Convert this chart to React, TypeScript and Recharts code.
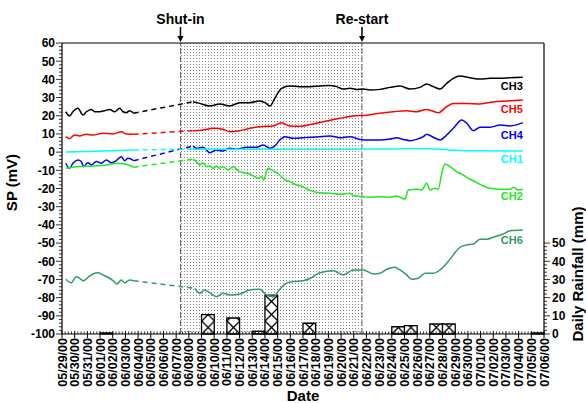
import React from "react";
import {
  ComposedChart,
  Line,
  XAxis,
  YAxis,
  ReferenceArea,
  ReferenceLine,
  Label,
} from "recharts";

const FONT = "'Liberation Sans', Arial, sans-serif";

// x = days since 05/29/00
const DATE_LABELS = [
  "05/29/00", "05/30/00", "05/31/00", "06/01/00", "06/02/00", "06/03/00", "06/04/00",
  "06/05/00", "06/06/00", "06/07/00", "06/08/00", "06/09/00", "06/10/00", "06/11/00",
  "06/12/00", "06/13/00", "06/14/00", "06/15/00", "06/16/00", "06/17/00", "06/18/00",
  "06/19/00", "06/20/00", "06/21/00", "06/22/00", "06/23/00", "06/24/00", "06/25/00",
  "06/26/00", "06/27/00", "06/28/00", "06/29/00", "06/30/00", "07/01/00", "07/02/00",
  "07/03/00", "07/04/00", "07/05/00", "07/06/00",
];
const SP_MAJOR = [-100, -90, -80, -70, -60, -50, -40, -30, -20, -10, 0, 10, 20, 30, 40, 50, 60];
const RAIN_MAJOR = [0, 10, 20, 30, 40, 50];

const SHUT_IN = 9.34;
const RESTART = 23.65;

// daily rainfall, bar spans the day [d, d+1]
const RAIN_DAYS = [3, 11, 13, 15, 16, 19, 26, 27, 29, 30, 37];
const RAIN_MM = [0.6, 10.6, 8.8, 1.5, 21.4, 5.9, 4.0, 4.6, 5.5, 5.5, 0.6];

type Pt = [number, number];

const CH3_PRE: Pt[] = [[0.3, 22.2], [0.6, 19.9], [0.86, 22.2], [1.26, 24.1], [1.65, 20.4], [1.92, 22.2], [2.31, 23.5], [2.57, 22.2], [2.97, 22.2], [3.36, 22.8], [3.76, 23.5], [4.15, 22.2], [4.55, 24.1], [4.81, 22.2], [5.07, 21.7], [5.34, 22.8], [5.65, 21.4]];
const CH3_POST: Pt[] = [[10.33, 27.7], [10.86, 26.8], [11.65, 25.4], [12.44, 26.5], [13.23, 25.4], [14.02, 27.2], [14.81, 27.2], [15.6, 28.1], [16.0, 27.2], [16.4, 25.4], [16.78, 29.6], [17.31, 35.1], [17.96, 36.4], [18.75, 36.0], [19.54, 36.0], [20.33, 36.4], [21.12, 36.7], [21.65, 36.0], [22.17, 34.7], [22.7, 35.1], [23.23, 34.5], [23.75, 34.7], [24.28, 34.2], [25.07, 34.5], [25.86, 35.6], [26.65, 36.4], [27.43, 34.7], [28.22, 35.6], [28.75, 37.5], [29.27, 36.0], [29.8, 34.7], [30.33, 37.8], [30.85, 40.6], [31.38, 41.9], [32.17, 40.9], [32.96, 40.2], [33.75, 40.6], [34.54, 40.6], [35.33, 40.9], [36.33, 41.1]];

const CH5_PRE: Pt[] = [[0.3, 8.5], [0.6, 7.4], [0.99, 9.4], [1.39, 8.9], [1.92, 9.8], [2.44, 9.4], [3.23, 10.4], [4.02, 10.0], [4.68, 11.2], [5.07, 10.0], [5.65, 9.8]];
const CH5_POST: Pt[] = [[10.33, 11.8], [11.12, 12.2], [11.91, 13.1], [12.7, 12.6], [13.23, 11.2], [14.02, 11.8], [14.81, 13.1], [15.6, 14.0], [16.65, 14.4], [17.31, 16.2], [17.96, 14.4], [18.75, 14.2], [19.8, 15.5], [20.86, 17.1], [21.91, 18.6], [22.96, 19.9], [24.02, 20.3], [25.07, 21.4], [26.12, 22.2], [27.17, 22.8], [27.96, 22.2], [28.75, 23.5], [29.67, 21.7], [30.33, 25.0], [30.85, 26.8], [31.91, 26.8], [32.96, 26.5], [34.0, 27.6], [35.06, 28.1], [36.33, 28.7]];

const CH4_PRE: Pt[] = [[0.3, -6.1], [0.6, -8.9], [0.86, -6.1], [1.26, -4.3], [1.52, -5.2], [1.7, -8.0], [2.05, -5.8], [2.31, -7.1], [2.71, -5.2], [3.1, -6.1], [3.5, -4.3], [3.89, -5.8], [4.28, -4.7], [4.68, -2.5], [4.94, -4.7], [5.2, -3.4], [5.65, -4.7]];
const CH4_POST: Pt[] = [[10.33, 3.4], [10.6, 2.1], [11.12, 2.7], [11.65, -0.3], [12.18, 1.2], [12.7, 0.6], [13.23, 2.1], [13.76, 1.6], [14.55, 2.7], [15.34, 2.7], [15.86, 3.9], [16.39, 2.1], [16.78, 3.4], [17.17, 6.7], [17.57, 8.5], [18.22, 7.6], [19.01, 7.9], [19.8, 8.2], [21.12, 8.9], [21.91, 7.9], [22.7, 8.5], [23.49, 7.0], [24.28, 6.7], [25.07, 6.7], [25.86, 7.2], [26.39, 7.9], [26.91, 7.0], [27.43, 6.3], [27.96, 7.0], [28.49, 8.5], [28.75, 9.8], [29.27, 8.2], [29.8, 6.7], [30.33, 9.4], [30.85, 13.1], [31.52, 17.7], [31.91, 15.9], [32.43, 11.8], [32.96, 13.7], [33.75, 13.7], [34.54, 14.9], [35.33, 14.4], [36.33, 16.2]];

const CH1_PRE: Pt[] = [[0.3, 0.0], [2.0, 0.4], [4.0, 0.8], [5.65, 1.2]];
const CH1_POST: Pt[] = [[10.33, 1.6], [14.0, 1.6], [18.0, 1.6], [22.0, 1.6], [26.0, 1.7], [29.0, 1.9], [30.5, 1.2], [32.0, 0.8], [36.33, 0.6]];

const CH2_PRE: Pt[] = [[0.3, -8.9], [1.13, -8.0], [2.44, -7.6], [3.5, -7.1], [4.28, -6.1], [4.94, -6.5], [5.65, -8.3]];
const CH2_POST: Pt[] = [[10.33, -3.9], [10.6, -5.2], [10.86, -7.1], [11.12, -5.8], [11.39, -8.0], [11.65, -7.6], [11.91, -8.9], [12.18, -7.6], [12.44, -8.9], [12.7, -8.0], [13.1, -9.8], [13.49, -8.0], [13.88, -10.2], [14.28, -11.3], [14.81, -12.0], [15.2, -13.5], [15.46, -14.4], [15.73, -13.5], [15.91, -15.3], [16.12, -10.7], [16.25, -8.9], [16.52, -9.8], [16.78, -10.7], [17.17, -12.6], [17.57, -15.3], [17.96, -16.2], [18.49, -18.1], [19.01, -19.0], [19.54, -21.0], [20.33, -22.3], [21.12, -22.6], [21.91, -23.2], [22.7, -22.6], [22.96, -23.9], [23.75, -24.5], [24.28, -24.8], [25.07, -24.5], [25.86, -24.8], [26.39, -24.1], [26.65, -24.8], [27.04, -25.8], [27.3, -20.8], [27.96, -20.4], [28.36, -20.8], [28.75, -17.1], [29.01, -20.8], [29.41, -19.9], [29.67, -20.3], [29.94, -11.6], [30.2, -6.5], [30.59, -8.0], [31.12, -10.7], [31.64, -12.6], [32.17, -14.9], [32.7, -16.8], [33.22, -18.6], [33.75, -19.9], [34.54, -20.4], [35.33, -20.4], [35.59, -19.3], [35.99, -20.8], [36.33, -20.4]];

const CH6_PRE: Pt[] = [[0.3, -69.9], [0.73, -71.8], [1.13, -68.5], [1.39, -69.4], [1.7, -70.7], [2.18, -68.1], [2.44, -67.0], [2.84, -66.3], [3.23, -67.5], [3.62, -68.8], [4.02, -70.7], [4.33, -72.5], [4.68, -70.3], [4.94, -71.8], [5.34, -70.3], [5.65, -70.7]];
const CH6_POST: Pt[] = [[10.47, -74.9], [10.86, -77.6], [11.25, -75.8], [11.65, -77.3], [12.18, -79.5], [12.7, -77.6], [13.23, -78.5], [14.02, -78.0], [14.81, -75.8], [15.6, -75.4], [16.12, -78.5], [16.65, -79.5], [17.17, -75.4], [17.7, -72.1], [18.22, -71.2], [19.01, -70.7], [19.54, -69.5], [20.33, -66.3], [21.38, -65.2], [22.17, -67.5], [22.96, -64.8], [23.75, -64.8], [24.54, -67.0], [25.07, -66.6], [25.6, -64.4], [26.25, -63.3], [26.65, -64.8], [27.17, -67.5], [27.57, -69.9], [28.09, -69.4], [28.62, -66.6], [29.27, -66.6], [29.8, -64.8], [30.33, -61.1], [30.85, -56.5], [31.38, -52.3], [31.91, -51.0], [32.43, -50.5], [32.96, -47.9], [33.49, -47.9], [34.0, -46.8], [34.8, -45.0], [35.33, -43.2], [36.33, -42.8]];

const SERIES = [
  { name: "CH3", color: "#000000", pre: CH3_PRE, post: CH3_POST, dy: 13 },
  { name: "CH5", color: "#ff0000", pre: CH5_PRE, post: CH5_POST, dy: 13 },
  { name: "CH4", color: "#0000ff", pre: CH4_PRE, post: CH4_POST, dy: 16.5 },
  { name: "CH1", color: "#00ffff", pre: CH1_PRE, post: CH1_POST, dy: 11.5 },
  { name: "CH2", color: "#1fe81f", pre: CH2_PRE, post: CH2_POST, dy: 10.5 },
  { name: "CH6", color: "#339966", pre: CH6_PRE, post: CH6_POST, dy: 14.5 },
];

const toRows = (pts: Pt[]) => pts.map(([d, v]) => ({ d, v }));

const xTicks: number[] = [];
for (let i = 0; i <= 38 * 4; i++) xTicks.push(i / 4);
const spTicks: number[] = [];
for (let v = -100; v <= 60; v += 2) spTicks.push(v);
const rainTicks: number[] = [];
for (let v = 0; v <= 50; v += 2) rainTicks.push(v);

const XTick = (props: any) => {
  const { x, y, payload } = props;
  const v = payload.value as number;
  const day = Math.round(v);
  if (Math.abs(v - day) > 1e-6) {
    return <line x1={x} x2={x} y1={y} y2={y - 2.5} stroke="#000" strokeWidth={0.8} />;
  }
  return (
    <g>
      <line x1={x} x2={x} y1={y - 3} y2={y + 4} stroke="#000" strokeWidth={1} />
      <text
        x={x}
        y={y + 4}
        dy="0.36em"
        transform={`rotate(-90 ${x} ${y + 4})`}
        textAnchor="end"
        fontSize={12.5}
        fontWeight="bold"
        fontFamily={FONT}
        fill="#000"
      >
        {DATE_LABELS[day]}
      </text>
    </g>
  );
};

const SpTick = (props: any) => {
  const { x, y, payload } = props;
  const v = payload.value as number;
  const major = SP_MAJOR.includes(v);
  return (
    <g>
      <line x1={x - (major ? 6 : 3)} x2={x} y1={y} y2={y} stroke="#000" strokeWidth={0.8} />
      {major && (
        <text x={x - 7} y={y} dy="0.36em" textAnchor="end" fontSize={12} fontWeight="bold" fontFamily={FONT} fill="#000">
          {v}
        </text>
      )}
    </g>
  );
};

const RainTick = (props: any) => {
  const { x, y, payload } = props;
  const v = payload.value as number;
  const major = RAIN_MAJOR.includes(v);
  return (
    <g>
      <line x1={x} x2={x + (major ? 6 : 3)} y1={y} y2={y} stroke="#000" strokeWidth={0.8} />
      {major && (
        <text x={x + 8} y={y} dy="0.36em" textAnchor="start" fontSize={12} fontWeight="bold" fontFamily={FONT} fill="#000">
          {v}
        </text>
      )}
    </g>
  );
};

const EventLabel = (text: string) => (props: any) => {
  const { x, y } = props.viewBox;
  return (
    <g>
      <text x={x} y={y - 19} textAnchor="middle" fontSize={14} fontWeight="bold" fontFamily={FONT} fill="#000">
        {text}
      </text>
      <line x1={x} x2={x} y1={y - 16} y2={y - 6} stroke="#000" strokeWidth={1.5} />
      <path d={`M${x - 3},${y - 7} L${x + 3},${y - 7} L${x},${y - 1} Z`} fill="#000" />
    </g>
  );
};

const endLabel = (name: string, color: string, dy: number, last: number) => (p: any) => {
  if (p.index !== last) return <g key={p.index} />;
  return (
    <text key={p.index} x={p.x} y={p.y + dy} textAnchor="end" fontSize={11} fontWeight="bold" fontFamily={FONT} fill={color}>
      {name}
    </text>
  );
};

export default function App() {
  return (
    <div style={{ position: "absolute", left: 0, top: 0, width: 586, height: 403, background: "#fff" }}>
      <ComposedChart
        width={586}
        height={403}
        margin={{ top: 43, right: 0, bottom: 0, left: 0 }}
        style={{ fontFamily: FONT }}
      >
        <defs>
          <pattern id="dots" patternUnits="userSpaceOnUse" width={3} height={3}>
            <rect x={0} y={0} width={3} height={3} fill="#fff" />
            <rect x={1} y={1} width={1} height={1} fill="#8a8a8a" />
          </pattern>
          <pattern id="xhatch" patternUnits="userSpaceOnUse" x={62.3} y={334} width={12.68} height={13}>
            <rect x={0} y={0} width={12.68} height={13} fill="#fff" />
            <path d="M0,0 L12.68,13 M12.68,0 L0,13" stroke="#000" strokeWidth={1.3} />
          </pattern>
        </defs>

        <XAxis
          dataKey="d"
          type="number"
          domain={[0, 38]}
          ticks={xTicks}
          interval={0}
          allowDataOverflow
          height={69}
          tickSize={0}
          tickMargin={0}
          tickLine={false}
          tick={<XTick />}
          axisLine={{ stroke: "#000", strokeWidth: 1.2 }}
        >
          <Label
            content={(p: any) => (
              <text
                x={p.viewBox.x + p.viewBox.width / 2}
                y={p.viewBox.y + 67}
                textAnchor="middle"
                fontSize={15}
                fontWeight="bold"
                fontFamily={FONT}
                fill="#000"
              >
                Date
              </text>
            )}
          />
        </XAxis>
        <YAxis
          yAxisId="sp"
          type="number"
          domain={[-100, 60]}
          ticks={spTicks}
          interval={0}
          allowDataOverflow
          width={62}
          tickSize={0}
          tickMargin={0}
          tickLine={false}
          tick={<SpTick />}
          axisLine={{ stroke: "#000", strokeWidth: 1.2 }}
        >
          <Label
            content={(p: any) => {
              const cx = 17;
              const cy = p.viewBox.y + p.viewBox.height / 2 - 6;
              return (
                <text x={cx} y={cy} transform={`rotate(-90 ${cx} ${cy})`} textAnchor="middle" fontSize={15} fontWeight="bold" fontFamily={FONT} fill="#000">
                  SP (mV)
                </text>
              );
            }}
          />
        </YAxis>
        <YAxis
          yAxisId="rain"
          orientation="right"
          type="number"
          domain={[0, 160]}
          ticks={rainTicks}
          interval={0}
          allowDataOverflow
          width={42}
          tickSize={0}
          tickMargin={0}
          tickLine={false}
          tick={<RainTick />}
          axisLine={{ stroke: "#000", strokeWidth: 1.2 }}
        >
          <Label
            content={(p: any) => {
              const cx = p.viewBox.x + 39;
              const cy = 274;
              return (
                <text x={cx} y={cy} transform={`rotate(-90 ${cx} ${cy})`} textAnchor="middle" fontSize={15} fontWeight="bold" fontFamily={FONT} fill="#000">
                  Daily Rainfall (mm)
                </text>
              );
            }}
          />
        </YAxis>

        <ReferenceArea yAxisId="sp" x1={SHUT_IN} x2={RESTART} fill="url(#dots)" fillOpacity={1} stroke="none" />
        <ReferenceLine yAxisId="sp" x={SHUT_IN} stroke="#666" strokeDasharray="6 2" strokeWidth={1} label={EventLabel("Shut-in")} />
        <ReferenceLine yAxisId="sp" x={RESTART} stroke="#666" strokeDasharray="6 2" strokeWidth={1} label={EventLabel("Re-start")} />
        <ReferenceLine yAxisId="sp" y={60} stroke="#000" strokeWidth={1.2} />

        {RAIN_DAYS.map((d, i) => (
          <ReferenceArea
            key={"rain" + d}
            yAxisId="rain"
            x1={d}
            x2={d + 1}
            y1={0}
            y2={RAIN_MM[i]}
            fill="url(#xhatch)"
            fillOpacity={1}
            stroke="#000"
            strokeWidth={1.3}
          />
        ))}

        {SERIES.map((s) => [
          <Line
            key={s.name + "-pre"}
            yAxisId="sp"
            data={toRows(s.pre)}
            dataKey="v"
            type="monotone"
            stroke={s.color}
            strokeWidth={1.5}
            dot={false}
            activeDot={false}
            isAnimationActive={false}
          />,
          <Line
            key={s.name + "-gap"}
            yAxisId="sp"
            data={toRows([s.pre[s.pre.length - 1], s.post[0]])}
            dataKey="v"
            type="linear"
            stroke={s.color}
            strokeWidth={1.5}
            strokeDasharray="5 4"
            dot={false}
            activeDot={false}
            isAnimationActive={false}
          />,
          <Line
            key={s.name + "-post"}
            yAxisId="sp"
            data={toRows(s.post)}
            dataKey="v"
            type="monotone"
            stroke={s.color}
            strokeWidth={1.5}
            dot={false}
            activeDot={false}
            isAnimationActive={false}
            label={endLabel(s.name, s.color, s.dy, s.post.length - 1)}
          />,
        ])}
      </ComposedChart>
    </div>
  );
}
